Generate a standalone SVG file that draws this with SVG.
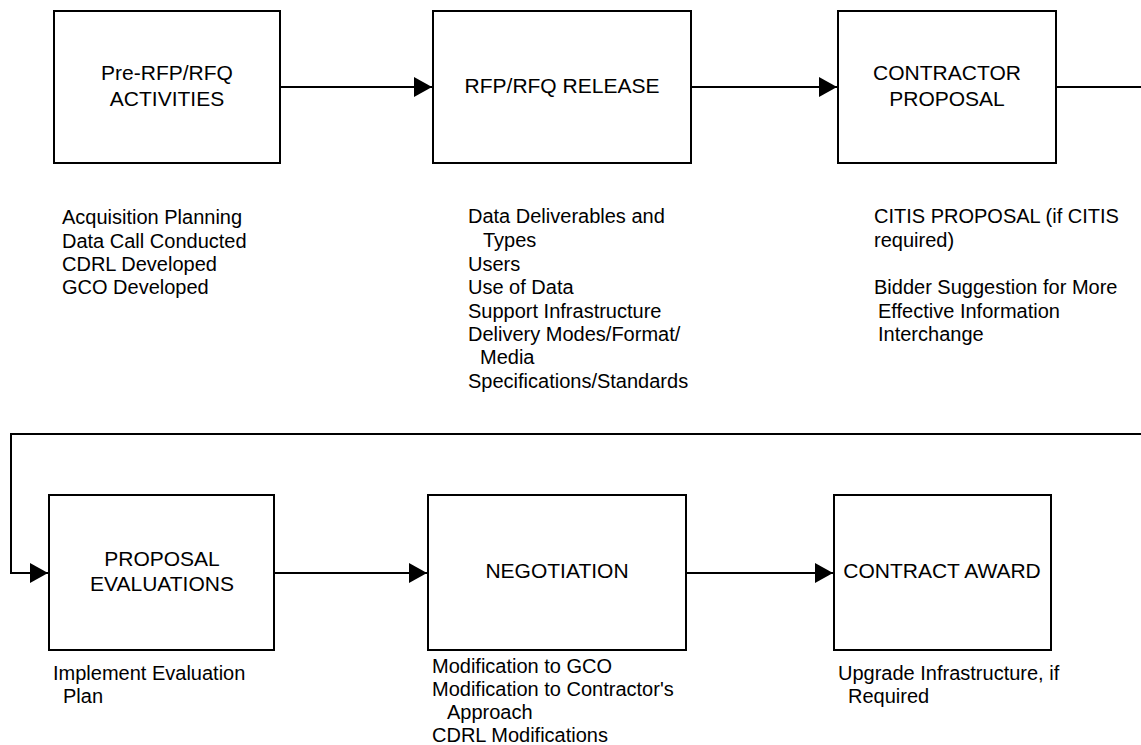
<svg xmlns="http://www.w3.org/2000/svg" width="1141" height="745" viewBox="0 0 1141 745">
<style>
  .box { fill: #ffffff; stroke: #000000; stroke-width: 2; }
  .lbl { font-family: "Liberation Sans", Arial, sans-serif; font-size: 21px; fill: #000000; text-anchor: middle; }
  .note { font-family: "Liberation Sans", Arial, sans-serif; font-size: 20px; fill: #000000; }
  .conn { fill: none; stroke: #000000; stroke-width: 2; }
</style>
<defs>
  <marker id="arrow" markerUnits="userSpaceOnUse" markerWidth="18" markerHeight="20" refX="18" refY="10" orient="auto">
    <path d="M0,0 L18,10 L0,20 Z" fill="#000000"/>
  </marker>
</defs>
<rect width="1141" height="745" fill="#ffffff"/>

<g id="connectors">
  <line class="conn" x1="281" y1="87" x2="432" y2="87" marker-end="url(#arrow)"/>
  <line class="conn" x1="691" y1="87" x2="837" y2="87" marker-end="url(#arrow)"/>
  <line class="conn" x1="1056" y1="87" x2="1141" y2="87"/>
  <path class="conn" d="M1141,434 H11 V573 H48" marker-end="url(#arrow)"/>
  <line class="conn" x1="275" y1="573" x2="427" y2="573" marker-end="url(#arrow)"/>
  <line class="conn" x1="686" y1="573" x2="833" y2="573" marker-end="url(#arrow)"/>
</g>

<g id="node-pre-rfp">
  <rect class="box" x="54" y="11" width="226" height="152"/>
  <text class="lbl" x="167" y="80">Pre-RFP/RFQ</text>
  <text class="lbl" x="167" y="106">ACTIVITIES</text>
  <text class="note" x="62" y="224">Acquisition Planning</text>
  <text class="note" x="62" y="248">Data Call Conducted</text>
  <text class="note" x="62" y="271">CDRL Developed</text>
  <text class="note" x="62" y="294">GCO Developed</text>
</g>

<g id="node-rfp-release">
  <rect class="box" x="433" y="11" width="258" height="152"/>
  <text class="lbl" x="562" y="93">RFP/RFQ RELEASE</text>
  <text class="note" x="468" y="223">Data Deliverables and</text>
  <text class="note" x="483" y="247">Types</text>
  <text class="note" x="468" y="271">Users</text>
  <text class="note" x="468" y="294">Use of Data</text>
  <text class="note" x="468" y="318">Support Infrastructure</text>
  <text class="note" x="468" y="341">Delivery Modes/Format/</text>
  <text class="note" x="480" y="364">Media</text>
  <text class="note" x="468" y="388">Specifications/Standards</text>
</g>

<g id="node-contractor-proposal">
  <rect class="box" x="838" y="11" width="218" height="152"/>
  <text class="lbl" x="947" y="80">CONTRACTOR</text>
  <text class="lbl" x="947" y="106">PROPOSAL</text>
  <text class="note" x="874" y="223">CITIS PROPOSAL (if CITIS</text>
  <text class="note" x="874" y="247">required)</text>
  <text class="note" x="874" y="294">Bidder Suggestion for More</text>
  <text class="note" x="878" y="318">Effective Information</text>
  <text class="note" x="878" y="341">Interchange</text>
</g>

<g id="node-proposal-evaluations">
  <rect class="box" x="49" y="495" width="225" height="155"/>
  <text class="lbl" x="162" y="566">PROPOSAL</text>
  <text class="lbl" x="162" y="591">EVALUATIONS</text>
  <text class="note" x="53" y="680">Implement Evaluation</text>
  <text class="note" x="63" y="703">Plan</text>
</g>

<g id="node-negotiation">
  <rect class="box" x="428" y="495" width="258" height="155"/>
  <text class="lbl" x="557" y="578">NEGOTIATION</text>
  <text class="note" x="432" y="673">Modification to GCO</text>
  <text class="note" x="432" y="696">Modification to Contractor's</text>
  <text class="note" x="447" y="719">Approach</text>
  <text class="note" x="432" y="742">CDRL Modifications</text>
</g>

<g id="node-contract-award">
  <rect class="box" x="834" y="495" width="217" height="155"/>
  <text class="lbl" x="942" y="578">CONTRACT AWARD</text>
  <text class="note" x="838" y="680">Upgrade Infrastructure, if</text>
  <text class="note" x="848" y="703">Required</text>
</g>
</svg>
